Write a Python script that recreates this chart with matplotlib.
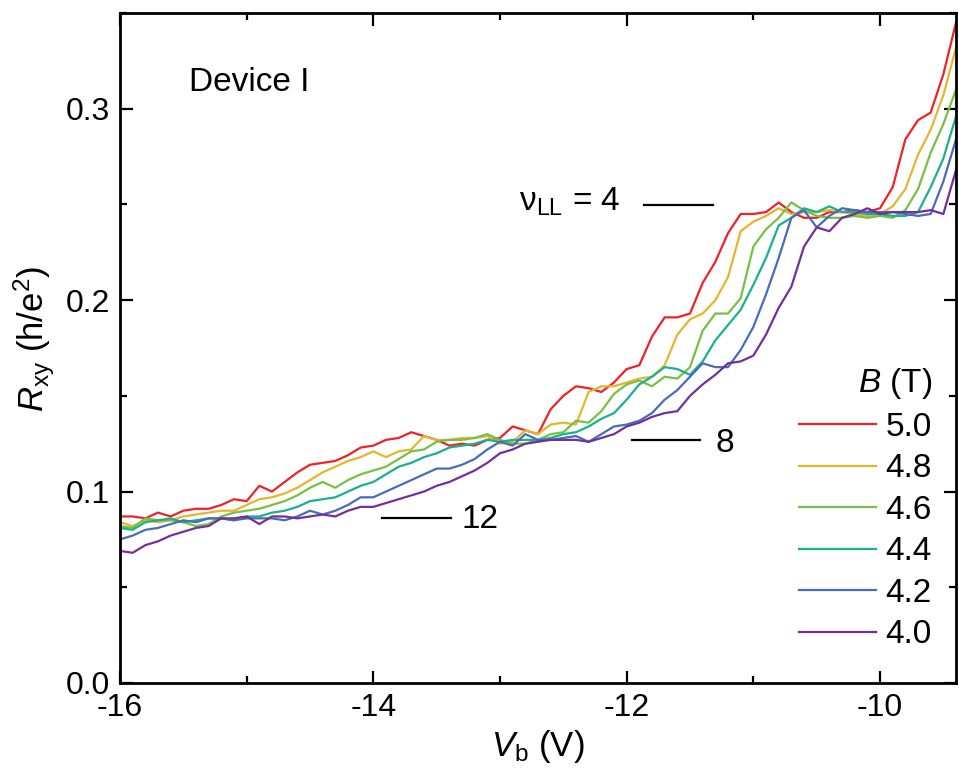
import numpy as np
import matplotlib
matplotlib.use("Agg")
import matplotlib.pyplot as plt
from matplotlib.ticker import MultipleLocator

plt.rcParams["font.family"] = ["Liberation Sans", "DejaVu Sans"]
plt.rcParams["mathtext.fontset"] = "custom"
plt.rcParams["mathtext.rm"] = "Liberation Sans"
plt.rcParams["mathtext.it"] = "Liberation Sans:italic"
plt.rcParams["mathtext.bf"] = "Liberation Sans:bold"

# Back-gate voltage sweep (V), 0.1 V steps
vb = np.linspace(-16.0, -9.4, 67)

# Hall resistance R_xy in units of h/e^2 for each field
r_50 = [0.087, 0.087, 0.086, 0.089, 0.087, 0.090, 0.091, 0.091, 0.093, 0.096,
        0.095, 0.103, 0.100, 0.105, 0.110, 0.114, 0.115, 0.116, 0.119, 0.123,
        0.124, 0.127, 0.128, 0.131, 0.129, 0.127, 0.124, 0.125, 0.124, 0.127,
        0.128, 0.134, 0.132, 0.130, 0.143, 0.150, 0.155, 0.154, 0.152, 0.157,
        0.164, 0.166, 0.181, 0.191, 0.191, 0.193, 0.209, 0.220, 0.235, 0.245,
        0.245, 0.246, 0.251, 0.246, 0.243, 0.243, 0.246, 0.246, 0.247, 0.246,
        0.248, 0.259, 0.284, 0.294, 0.298, 0.318, 0.345]
r_48 = [0.084, 0.082, 0.085, 0.084, 0.085, 0.087, 0.088, 0.089, 0.090, 0.090,
        0.093, 0.096, 0.097, 0.099, 0.102, 0.106, 0.110, 0.113, 0.116, 0.118,
        0.121, 0.118, 0.121, 0.122, 0.129, 0.127, 0.127, 0.128, 0.128, 0.129,
        0.125, 0.126, 0.132, 0.130, 0.135, 0.136, 0.135, 0.152, 0.155, 0.155,
        0.157, 0.159, 0.160, 0.166, 0.182, 0.190, 0.193, 0.200, 0.212, 0.236,
        0.241, 0.244, 0.248, 0.245, 0.246, 0.246, 0.247, 0.246, 0.245, 0.244,
        0.245, 0.249, 0.258, 0.276, 0.289, 0.307, 0.332]
r_46 = [0.082, 0.081, 0.086, 0.085, 0.085, 0.084, 0.082, 0.083, 0.087, 0.089,
        0.090, 0.091, 0.093, 0.095, 0.098, 0.102, 0.105, 0.102, 0.106, 0.109,
        0.111, 0.113, 0.117, 0.121, 0.122, 0.126, 0.127, 0.127, 0.128, 0.130,
        0.127, 0.125, 0.125, 0.127, 0.130, 0.131, 0.137, 0.136, 0.142, 0.151,
        0.156, 0.158, 0.155, 0.160, 0.159, 0.165, 0.184, 0.193, 0.193, 0.201,
        0.228, 0.237, 0.243, 0.251, 0.247, 0.244, 0.243, 0.243, 0.244, 0.243,
        0.244, 0.243, 0.247, 0.258, 0.277, 0.292, 0.310]
r_44 = [0.081, 0.080, 0.084, 0.085, 0.086, 0.084, 0.085, 0.086, 0.086, 0.085,
        0.087, 0.087, 0.089, 0.090, 0.092, 0.095, 0.096, 0.097, 0.100, 0.103,
        0.105, 0.109, 0.113, 0.115, 0.118, 0.120, 0.123, 0.124, 0.125, 0.127,
        0.126, 0.127, 0.127, 0.127, 0.128, 0.130, 0.131, 0.134, 0.138, 0.141,
        0.148, 0.156, 0.160, 0.165, 0.164, 0.161, 0.168, 0.179, 0.187, 0.195,
        0.208, 0.222, 0.239, 0.243, 0.248, 0.246, 0.249, 0.246, 0.246, 0.245,
        0.245, 0.244, 0.244, 0.246, 0.259, 0.274, 0.296]
r_42 = [0.075, 0.077, 0.080, 0.081, 0.083, 0.085, 0.084, 0.086, 0.086, 0.085,
        0.086, 0.086, 0.086, 0.085, 0.087, 0.090, 0.088, 0.090, 0.093, 0.097,
        0.097, 0.100, 0.103, 0.106, 0.109, 0.112, 0.112, 0.114, 0.117, 0.122,
        0.126, 0.124, 0.130, 0.127, 0.127, 0.128, 0.129, 0.126, 0.130, 0.134,
        0.135, 0.137, 0.141, 0.148, 0.153, 0.160, 0.167, 0.165, 0.165, 0.174,
        0.186, 0.203, 0.222, 0.243, 0.247, 0.238, 0.244, 0.248, 0.247, 0.246,
        0.246, 0.246, 0.245, 0.244, 0.245, 0.262, 0.284]
r_40 = [0.069, 0.068, 0.072, 0.074, 0.077, 0.079, 0.081, 0.082, 0.086, 0.086,
        0.087, 0.083, 0.087, 0.087, 0.086, 0.087, 0.088, 0.087, 0.090, 0.092,
        0.092, 0.094, 0.096, 0.098, 0.100, 0.103, 0.105, 0.108, 0.111, 0.115,
        0.120, 0.122, 0.125, 0.126, 0.127, 0.127, 0.127, 0.126, 0.128, 0.130,
        0.134, 0.136, 0.139, 0.141, 0.142, 0.150, 0.156, 0.161, 0.167, 0.168,
        0.171, 0.182, 0.196, 0.207, 0.228, 0.238, 0.236, 0.243, 0.245, 0.248,
        0.245, 0.246, 0.246, 0.246, 0.247, 0.245, 0.268]

fields = ["5.0", "4.8", "4.6", "4.4", "4.2", "4.0"]
curves = [r_50, r_48, r_46, r_44, r_42, r_40]
colors = ["#EE2228", "#E6B530", "#78C043", "#19B28C", "#4A6CB8", "#74309A"]

fig = plt.figure(figsize=(9.59, 7.82), dpi=100)
ax = fig.add_axes([0.1251, 0.1266, 0.8718, 0.8568])

for lab, r, c in zip(fields, curves, colors):
    ax.plot(vb, r, color=c, lw=1.6, label=lab)

ax.set_xlim(-16, -9.4)
ax.set_ylim(0, 0.35)
ax.xaxis.set_major_locator(MultipleLocator(2))
ax.xaxis.set_minor_locator(MultipleLocator(1))
ax.yaxis.set_major_locator(MultipleLocator(0.1))
ax.yaxis.set_minor_locator(MultipleLocator(0.05))
ax.xaxis.set_major_formatter(plt.FuncFormatter(lambda v, p: f"{v:.0f}"))
ax.yaxis.set_major_formatter(plt.FuncFormatter(lambda v, p: f"{v:.1f}"))
ax.tick_params(which="both", direction="in", top=True, right=True,
               labelsize=23, width=1.6, pad=7)
ax.tick_params(which="major", length=9)
ax.tick_params(which="minor", length=5)
for s in ax.spines.values():
    s.set_linewidth(2.0)

ax.set_xlabel(r"$V_{\mathrm{b}}$ (V)", fontsize=25, labelpad=4)
ax.set_ylabel(r"$R_{\mathrm{xy}}$ (h/e$^2$)", fontsize=25)
ax.yaxis.set_label_coords(-0.075, 0.513)

# Filling-factor plateau markers
ax.plot([-11.86, -11.32], [0.2499, 0.2499], color="black", lw=1.6)
ax.text(-12.85, 0.2467, r"ν$_{\mathrm{LL}}$ = 4", fontsize=24, va="baseline", ha="left")
ax.plot([-11.96, -11.42], [0.1268, 0.1268], color="black", lw=1.6)
ax.text(-11.30, 0.1205, "8", fontsize=24, va="baseline", ha="left")
ax.plot([-13.93, -13.39], [0.0860, 0.0860], color="black", lw=1.6)
ax.text(-13.30, 0.0809, "12", fontsize=24, va="baseline", ha="left")

ax.text(-15.455, 0.309, "Device I", fontsize=24, va="baseline", ha="left")

leg = ax.legend(loc="upper left", bbox_to_anchor=(0.812, 0.4725), frameon=False,
                fontsize=24, title=r"$B$ (T)", title_fontsize=24,
                handlelength=2.3, handletextpad=0.3, labelspacing=0.315,
                borderaxespad=0, borderpad=0, alignment="right")

fig.savefig("out.png", dpi=100)
